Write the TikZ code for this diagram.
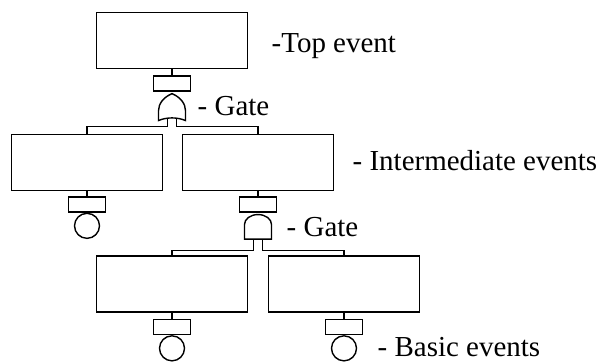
\documentclass[tikz,border=0pt]{standalone}
\usepackage{fontspec}
\setmainfont{Liberation Serif}
\usetikzlibrary{calc,positioning,shapes.gates.logic.US}
\tikzstyle{event}   = [draw, minimum width=3.775cm, minimum height=1.4cm, inner sep=0pt]
\tikzstyle{tag}     = [draw, minimum width=0.925cm, minimum height=0.375cm, inner sep=0pt]
\tikzstyle{basic}   = [draw, circle, minimum size=0.625cm, inner sep=0pt]
\tikzstyle{orgate}  = [draw, or gate US, rotate=90, xscale=0.73, logic gate inputs=nn, minimum height=0.675cm, inner sep=0pt]
\tikzstyle{andgate} = [draw, and gate US, rotate=90, xscale=0.73, logic gate inputs=nn, minimum height=0.675cm, inner sep=0pt]
\tikzstyle{note}    = [anchor=base west, inner sep=0pt, font=\fontsize{20.6}{24}\selectfont]

\begin{document}
\begin{tikzpicture}[x=0.025cm, y=-0.025cm, line width=1pt]
		\useasboundingbox (0,0) rectangle (600,363);
		% top event and its gate
		\node[event] (top) at (172,40.5) {};
		\node[tag, below=0.15cm of top] (ttag) {};
		\node[orgate, anchor=output] (g1) at ([yshift=-1pt]ttag.south) {};
		% intermediate events
		\node[event] (inl) at (87,162.5) {};
		\node[event] (inr) at (258,162.5) {};
		\node[tag, below=0.125cm of inl] (ltag) {};
		\node[basic, below=0pt of ltag] (lbe) {};
		\node[tag, below=0.125cm of inr] (rtag) {};
		\node[andgate, anchor=output] (g2) at ([yshift=-1pt]rtag.south) {};
		% basic events
		\node[event] (bl) at (172,284) {};
		\node[event] (br) at (344,284) {};
		\node[tag, below=0.15cm of bl] (bltag) {};
		\node[basic, below=0pt of bltag] (blbe) {};
		\node[tag, below=0.15cm of br] (brtag) {};
		\node[basic, below=0pt of brtag] (brbe) {};

		\draw (top.south) -- (ttag.north);
		\draw (g1.input 1) |- ([yshift=0.175cm]inl.north) -- (inl.north);
		\draw (g1.input 2) |- ([yshift=0.175cm]inr.north) -- (inr.north);
		\draw (inl.south) -- (ltag.north);
		\draw (inr.south) -- (rtag.north);
		\draw (g2.input 1) |- ([yshift=0.125cm]bl.north) -- (bl.north);
		\draw (g2.input 2) |- ([yshift=0.125cm]br.north) -- (br.north);
		\draw (bl.south) -- (bltag.north);
		\draw (br.south) -- (brtag.north);

		% labels
		\node[note] (ltop) at (271,52) {-Top event};
		\node[note] (lgate1) at (197,115) {- Gate};
		\node[note] (linter) at (352,170) {- Intermediate events};
		\node[note] (lgate2) at (286,236) {- Gate};
		\node[note] (lbasic) at (377,356) {- Basic events};
	\end{tikzpicture}
\end{document}
